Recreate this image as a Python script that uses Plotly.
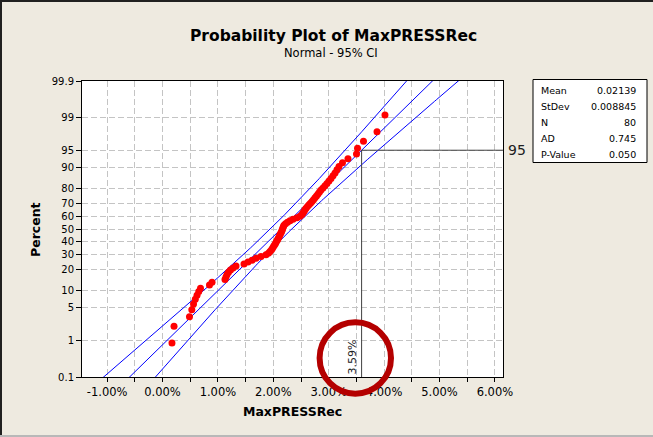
import plotly.graph_objects as go
from statistics import NormalDist
import math

# ---- data (sorted MaxPRESSRec values, in percent) ----
values_pct = [
    0.171, 0.208, 0.487, 0.529, 0.560, 0.592, 0.623, 0.655, 0.686, 0.848,
    0.894, 1.128, 1.146, 1.164, 1.191, 1.227, 1.273, 1.327, 1.471, 1.543,
    1.616, 1.688, 1.778, 1.868, 1.913, 1.940, 1.968, 1.986, 2.004, 2.022,
    2.040, 2.054, 2.072, 2.085, 2.099, 2.112, 2.125, 2.139, 2.152, 2.161,
    2.171, 2.181, 2.193, 2.220, 2.256, 2.301, 2.356, 2.428, 2.482, 2.518,
    2.536, 2.554, 2.572, 2.590, 2.617, 2.644, 2.671, 2.699, 2.726, 2.753,
    2.780, 2.807, 2.834, 2.861, 2.897, 2.933, 2.969, 3.005, 3.042, 3.078,
    3.114, 3.150, 3.186, 3.249, 3.348, 3.502, 3.520, 3.628, 3.872, 4.016,
]
MEAN = 0.02139
STDEV = 0.008845
N = 80
AD = 0.745
PVAL = 0.050
REF_PCT = 95

y_tick_pcts = [0.1, 1, 5, 10, 20, 30, 40, 50, 60, 70, 80, 90, 95, 99, 99.9]
y_tick_labels = ["0.1", "1", "5", "10", "20", "30", "40", "50", "60", "70", "80", "90", "95", "99", "99.9"]
x_tick_vals_pct = [-1.0, -0.5, 0.0, 0.5, 1.0, 1.5, 2.0, 2.5, 3.0, 3.5, 4.0, 4.5, 5.0, 5.5, 6.0]

nd = NormalDist()
xs = [v / 100 for v in values_pct]
n = len(xs)
ys = [nd.inv_cdf((i + 1 - 0.3) / (n + 0.4)) for i in range(n)]

zmin, zmax = nd.inv_cdf(0.001), nd.inv_cdf(0.999)
zline = [zmin - 0.2 + k * (zmax - zmin + 0.4) / 200 for k in range(201)]
zc = 1.959964
fit = [MEAN + z * STDEV for z in zline]
se = [STDEV * math.sqrt(1 / N + z * z / (2 * N)) for z in zline]
lo = [f - zc * s for f, s in zip(fit, se)]
hi = [f + zc * s for f, s in zip(fit, se)]

z95 = nd.inv_cdf(REF_PCT / 100)
x95 = MEAN + z95 * STDEV

FONT = "DejaVu Sans"
W, H = 653, 437
L, R, T, B = 82, 503, 81, 377


def px(x):
    return (x - L) / (R - L)


def py(y):
    return (B - y) / (B - T)


fig = go.Figure()
for arr in (lo, fit, hi):
    fig.add_trace(go.Scatter(x=arr, y=zline, mode="lines",
                             line=dict(color="#0000ff", width=1),
                             hoverinfo="skip", showlegend=False))
fig.add_trace(go.Scatter(x=xs, y=ys, mode="markers",
                         marker=dict(color="#ff0000", size=7),
                         showlegend=False))

shapes = [
    dict(type="line", xref="x", yref="y", x0=x95, x1=x95, y0=zmin, y1=z95,
         line=dict(color="#404040", width=1)),
    dict(type="line", xref="x", yref="y", x0=x95, x1=0.0615, y0=z95, y1=z95,
         line=dict(color="#404040", width=1)),
    # red highlight circle
    dict(type="circle", xref="paper", yref="paper",
         x0=px(355.3 - 35.7), x1=px(355.3 + 35.7),
         y0=py(358 + 35.7), y1=py(358 - 35.7),
         line=dict(color="#b40000", width=6), layer="above"),
    # stats box
    dict(type="rect", xref="paper", yref="paper",
         x0=px(533), x1=px(647), y0=py(162.5), y1=py(79.5),
         line=dict(color="#000000", width=1), fillcolor="white"),
    # window frame lines
    dict(type="line", xref="paper", yref="paper", x0=px(0), x1=px(W), y0=py(1), y1=py(1),
         line=dict(color="#202020", width=2)),
    dict(type="line", xref="paper", yref="paper", x0=px(1), x1=px(1), y0=py(0), y1=py(H),
         line=dict(color="#202020", width=2)),
    dict(type="line", xref="paper", yref="paper", x0=px(0), x1=px(W), y0=py(436), y1=py(436),
         line=dict(color="#b8b8b8", width=2)),
]

ann = [
    dict(text="<b>Probability Plot of MaxPRESSRec</b>", x=px(333.5), y=py(36),
         font=dict(size=15.5, color="#000000", family=FONT)),
    dict(text="Normal - 95% CI", x=px(331), y=py(52.5),
         font=dict(size=11.5, color="#000000", family=FONT)),
    dict(text="<b>Percent</b>", x=px(35), y=py(230), textangle=-90,
         font=dict(size=12.5, color="#000000", family=FONT)),
    dict(text="<b>MaxPRESSRec</b>", x=px(292), y=py(411),
         font=dict(size=12.5, color="#000000", family=FONT)),
]
for a in ann:
    a.update(xref="paper", yref="paper", showarrow=False, xanchor="center", yanchor="middle")

fig.add_annotation(text=f"{x95 * 100:.2f}%", xref="x", yref="paper", x=x95, y=0,
                   xanchor="right", yanchor="bottom", textangle=-90, showarrow=False,
                   xshift=-1, font=dict(size=11, color="#202020", family=FONT))
fig.add_annotation(text=str(REF_PCT), xref="paper", yref="y", x=px(506), y=z95,
                   xanchor="left", yanchor="middle", showarrow=False,
                   font=dict(size=14, color="#202020", family=FONT))

stat_labels = ["Mean", "StDev", "N", "AD", "P-Value"]
stat_values = [f"{MEAN:.5f}", f"{STDEV:.6f}", f"{N}", f"{AD:.3f}", f"{PVAL:.3f}"]
for k, (lab, val) in enumerate(zip(stat_labels, stat_values)):
    yy = py(90.7 + k * 15.9)
    ann.append(dict(text=lab, x=px(539), y=yy, xref="paper", yref="paper", showarrow=False,
                    xanchor="left", yanchor="middle",
                    font=dict(size=9.5, color="#000000", family=FONT)))
    ann.append(dict(text=val, x=px(638), y=yy, xref="paper", yref="paper", showarrow=False,
                    xanchor="right", yanchor="middle",
                    font=dict(size=9.5, color="#000000", family=FONT)))

for a in ann:
    fig.add_annotation(**a)

x_tick_text = [f"{v:.2f}%" if abs(v - round(v)) < 1e-9 else "" for v in x_tick_vals_pct]

fig.update_layout(
    width=W, height=H,
    margin=dict(l=L, r=W - R, t=T, b=H - B),
    paper_bgcolor="#eeeae0", plot_bgcolor="#ffffff",
    shapes=shapes,
    showlegend=False,
    xaxis=dict(range=[(L - 162.5) / 55.4 / 100, (R - 162.5) / 55.4 / 100],
               tickvals=[v / 100 for v in x_tick_vals_pct], ticktext=x_tick_text,
               showgrid=True, gridcolor="#c4c4c4", griddash="6px,3px", gridwidth=1,
               zeroline=False, showline=True, linecolor="#000000", linewidth=1, mirror=True,
               ticks="outside", ticklen=4, tickcolor="#000000",
               tickfont=dict(size=11.5, color="#000000", family=FONT)),
    yaxis=dict(range=[zmin, zmax],
               tickvals=[nd.inv_cdf(p / 100) for p in y_tick_pcts], ticktext=y_tick_labels,
               showgrid=True, gridcolor="#c4c4c4", griddash="6px,3px", gridwidth=1,
               zeroline=False, showline=True, linecolor="#000000", linewidth=1, mirror=True,
               ticks="outside", ticklen=5, tickcolor="#000000",
               tickfont=dict(size=10, color="#000000", family=FONT)),
)

fig.write_html("out.html", config={"displayModeBar": False},
               post_script="document.body.style.margin='0';document.body.style.padding='0';document.body.style.overflow='hidden';")
